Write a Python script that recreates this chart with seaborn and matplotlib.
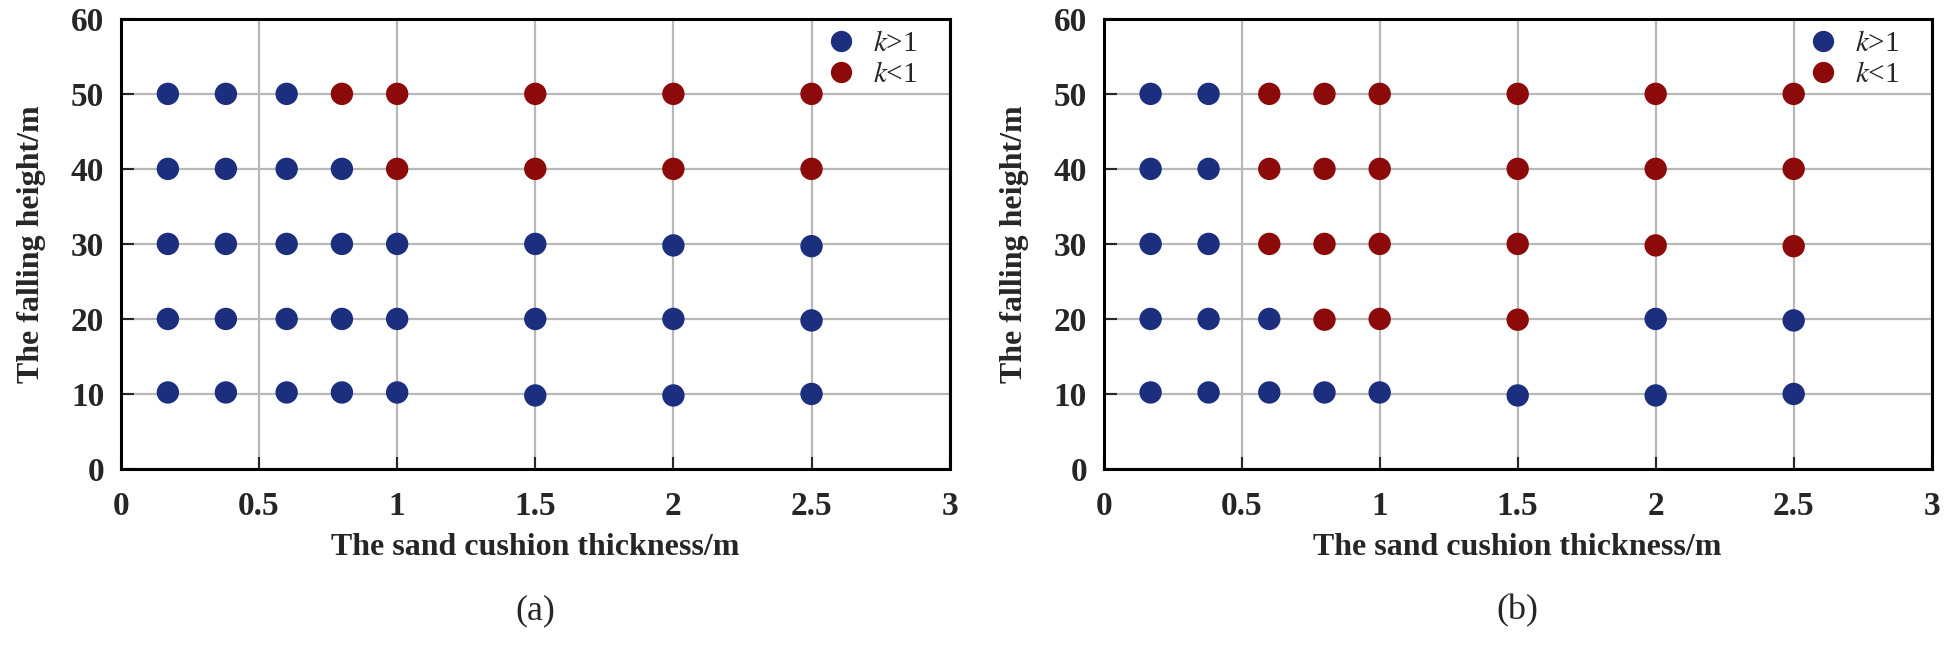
import numpy as np
import pandas as pd
import matplotlib
matplotlib.use("Agg")
import matplotlib.pyplot as plt
import seaborn as sns

# thickness of the sand cushion (m) and nominal falling heights (m)
thickness = [0.17, 0.38, 0.6, 0.8, 1.0, 1.5, 2.0, 2.5]
heights = [10, 20, 30, 40, 50]

y_a = [[10.2, 10.2, 10.2, 10.2, 10.2, 9.8, 9.8, 10.0],
       [20.0, 20.0, 20.0, 20.0, 20.0, 20.0, 20.0, 19.8],
       [30.0, 30.0, 30.0, 30.0, 30.0, 30.0, 29.8, 29.7],
       [40.0, 40.0, 40.0, 40.0, 40.0, 40.0, 40.0, 40.0],
       [50.0, 50.0, 50.0, 50.0, 50.0, 50.0, 50.0, 50.0]]
y_b = [[10.2, 10.2, 10.2, 10.2, 10.2, 9.8, 9.8, 10.0],
       [20.0, 20.0, 20.0, 19.9, 20.0, 19.9, 20.0, 19.8],
       [30.0, 30.0, 30.0, 30.0, 30.0, 30.0, 29.8, 29.7],
       [40.0, 40.0, 40.0, 40.0, 40.0, 40.0, 40.0, 40.0],
       [50.0, 50.0, 50.0, 50.0, 50.0, 50.0, 50.0, 50.0]]

# k classes: 1 -> k>1, 0 -> k<1
k_a = [[1, 1, 1, 1, 1, 1, 1, 1],
       [1, 1, 1, 1, 1, 1, 1, 1],
       [1, 1, 1, 1, 1, 1, 1, 1],
       [1, 1, 1, 1, 0, 0, 0, 0],
       [1, 1, 1, 0, 0, 0, 0, 0]]
k_b = [[1, 1, 1, 1, 1, 1, 1, 1],
       [1, 1, 1, 0, 0, 0, 1, 1],
       [1, 1, 0, 0, 0, 0, 0, 0],
       [1, 1, 0, 0, 0, 0, 0, 0],
       [1, 1, 0, 0, 0, 0, 0, 0]]

class_names = ['k>1', 'k<1']
class_labels = [r'$k$>1', r'$k$<1']
colors = ['#1b2f7e', '#8c0a0a']
panel_tags = ['(a)', '(b)']


def make_df(yv, kv):
    rows = []
    for i in range(len(heights)):
        for j, t in enumerate(thickness):
            rows.append({'x': t, 'y': yv[i][j],
                         'k': class_names[0] if kv[i][j] == 1 else class_names[1]})
    return pd.DataFrame(rows)


sns.set_style("white")
plt.rcParams['font.family'] = ['Liberation Serif', 'DejaVu Serif']
plt.rcParams['mathtext.fontset'] = 'stix'

fig = plt.figure(figsize=(19.5, 6.5), dpi=100)
axes = [fig.add_axes([0.062, 0.2785, 0.425, 0.6925]),
        fig.add_axes([0.566, 0.2785, 0.4246, 0.6925])]

for ax, yv, kv, tag in zip(axes, [y_a, y_b], [k_a, k_b], panel_tags):
    df = make_df(yv, kv)
    ax.grid(True, color='#b8b8b8', linewidth=1.6, zorder=0)
    sns.scatterplot(data=df, x='x', y='y', hue='k', hue_order=class_names,
                    palette=colors, s=260, edgecolor='none', ax=ax, zorder=3)
    ax.set_xlim(0, 3)
    ax.set_ylim(0, 60)
    ax.set_xticks(np.arange(0, 3.01, 0.5))
    ax.set_xticklabels(['0', '0.5', '1', '1.5', '2', '2.5', '3'])
    ax.set_yticks(range(0, 61, 10))
    ax.tick_params(direction='in', length=9, width=1.5, labelsize=24, pad=12,
                   left=True, bottom=True)
    ax.tick_params(axis='x', pad=16)
    for lab in ax.get_xticklabels() + ax.get_yticklabels():
        lab.set_fontweight('bold')
    ax.set_xlabel('The sand cushion thickness/m', fontsize=23, fontweight='bold', labelpad=8)
    ax.set_ylabel('The falling height/m', fontsize=23, fontweight='bold', labelpad=18)
    for sp in ax.spines.values():
        sp.set_visible(True)
        sp.set_color('black')
        sp.set_linewidth(2.2)
    handles, _ = ax.get_legend_handles_labels()
    ax.legend(handles, class_labels, loc='upper right', frameon=False,
              fontsize=21, markerscale=0.95, handletextpad=0.1,
              labelspacing=0.15, borderaxespad=0.0, bbox_to_anchor=(0.975, 1.0))
    ax.text(0.5, -0.315, tag, transform=ax.transAxes, ha='center', va='center',
            fontsize=26)

fig.savefig('out.png', dpi=100)
